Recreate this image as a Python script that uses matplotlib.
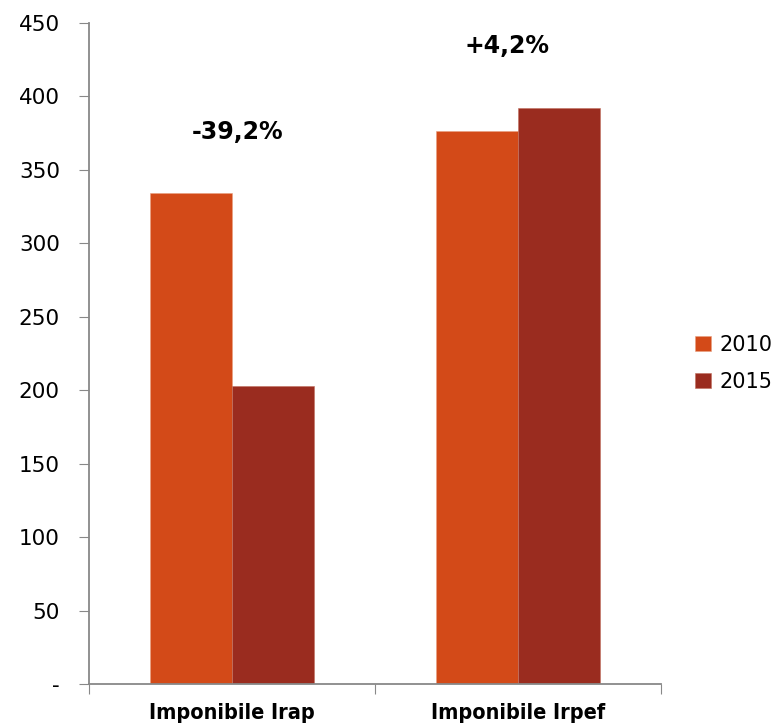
import numpy as np
import matplotlib.pyplot as plt

categories = ["Imponibile Irap", "Imponibile Irpef"]
years = ["2010", "2015"]
values_2010 = [334, 376.5]
values_2015 = [203, 392.3]
changes = ["-39,2%", "+4,2%"]
yticks = [0, 50, 100, 150, 200, 250, 300, 350, 400, 450]
ytick_labels = ["-", "50", "100", "150", "200", "250", "300", "350", "400", "450"]

col_2010 = "#D34A18"
col_2015 = "#9A2C1F"

fig = plt.figure(figsize=(7.82, 7.28), dpi=100)
ax = fig.add_axes([0.1138, 0.0604, 0.7315, 0.908])

x = np.arange(len(categories))
w = 0.287
ax.bar(x - w/2, values_2010, w, color=col_2010, label=years[0], edgecolor="#e8a080", linewidth=0.4)
ax.bar(x + w/2, values_2015, w, color=col_2015, label=years[1], edgecolor="#c07060", linewidth=0.4)

# percentage labels above each group
offsets = [0.02, -0.04]
for i, txt in enumerate(changes):
    top = max(values_2010[i], values_2015[i])
    ax.text(x[i] + offsets[i], top + 42, txt, ha="center", va="center",
            fontsize=17, fontweight="bold", color="black")

ax.set_xlim(-0.5, 1.5)
ax.set_ylim(0, 450)
ax.set_yticks(yticks)
ax.set_yticklabels(ytick_labels, fontsize=15.5)
ax.set_xticks([-0.5, 0.5, 1.5], minor=False)
ax.set_xticklabels([])
ax.set_xticks(x, minor=True)
ax.set_xticklabels(categories, minor=True, fontsize=15.5, fontweight="bold",
                   fontstretch="condensed")
ax.tick_params(axis="x", which="minor", length=0, pad=14)
ax.tick_params(axis="x", which="major", length=7, color="#888888", direction="out")
ax.tick_params(axis="y", length=7, color="#888888", pad=14)

for s in ["top", "right"]:
    ax.spines[s].set_visible(False)
for s in ["left", "bottom"]:
    ax.spines[s].set_color("#888888")
    ax.spines[s].set_linewidth(1.3)

ax.legend(loc="center left", bbox_to_anchor=(1.045, 0.485), frameon=False,
          fontsize=15, handlelength=0.75, handleheight=0.75, handletextpad=0.4,
          labelspacing=0.8, borderaxespad=0)

fig.savefig("out.png", dpi=100)
